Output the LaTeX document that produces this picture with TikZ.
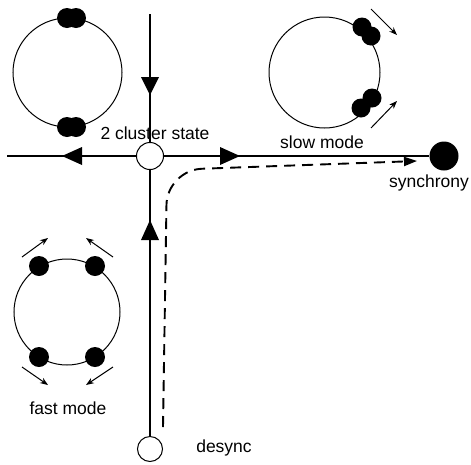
\documentclass[tikz,border=0pt]{standalone}
\usepackage{fontspec}
\setmainfont{Liberation Sans}
\usetikzlibrary{arrows.meta}
\begin{document}
\begin{tikzpicture}[x=1pt,y=-1pt,
  lbl/.style={font=\fontsize{17.5}{20}\selectfont, inner sep=0pt},
  state/.style={circle, draw, line width=1pt, inner sep=0pt, minimum size=#1},
  sync/.style={circle, fill=black, inner sep=0pt, minimum size=#1},
  axis/.style={line width=1.2pt},
  orbit/.style={line width=1pt},
  osc/.style={fill=black},
  flow/.style={line width=1pt, -{Stealth[length=8pt,width=6pt]}},
  path/.style={line width=1.9pt, dash pattern=on 11pt off 7pt, rounded corners=35pt,
               -{Triangle[length=13pt,width=9pt]}},
  tri/.style={fill=black}
]
\useasboundingbox (0,0) rectangle (471,464);

% main nodes
\node[state=27pt] (c) at (150,156) {};
\node[sync=29pt] (syn) at (444,156) {};
\node[state=25pt] (des) at (150,449) {};
\coordinate (wend) at (7,156);
\coordinate (nend) at (150,14);
\coordinate (dstart) at (163,427);

% axes
\draw[axis] (nend) -- (c);
\draw[axis] (c) -- (wend);
\draw[axis] (c) -- (syn);
\draw[axis] (c) -- (des);

% mid arrowheads
\fill[tri] (150,95) -- (141,77) -- (159,77) -- cycle;
\fill[tri] (62,156) -- (82,147) -- (82,165) -- cycle;
\fill[tri] (240,156) -- (220,147) -- (220,165) -- cycle;
\fill[tri] (150,220) -- (141,240) -- (159,240) -- cycle;

% dashed trajectory
\draw[path] (dstart) -- (167,170) -- (417,161);

% labels
\node[lbl] (lc) at (155,133) {2 cluster state};
\node[lbl] (ls) at (322,142) {slow mode};
\node[lbl] (lsy) at (429,183) {synchrony};
\node[lbl] (lf) at (68,408) {fast mode};
\node[lbl] (ld) at (224,448) {desync};

% top-left: 2 cluster state
\draw[orbit] (67.5,72.5) circle (54.5);
\fill[osc] (67,18) circle (10) (76,18) circle (10);
\fill[osc] (67,127) circle (10) (76,127) circle (10);

% top-right: slow mode
\draw[orbit] (324.5,72.5) circle (55.5);
\fill[osc] (362,27) circle (9.5) (371,36) circle (9.5);
\fill[osc] (372,98) circle (9.5) (361,108) circle (9.5);
\draw[flow] (371,9) -- (397,35);
\draw[flow] (371,128) -- (397,101);

% bottom-left: fast mode
\draw[orbit] (67,312) circle (53);
\fill[osc] (39,266) circle (10) (95,266) circle (10);
\fill[osc] (39,357) circle (10) (95,357) circle (10);
\draw[flow] (22,257) -- (48,238);
\draw[flow] (113,257) -- (86,238);
\draw[flow] (22,367) -- (48,385);
\draw[flow] (113,367) -- (86,385);
\end{tikzpicture}
\end{document}
